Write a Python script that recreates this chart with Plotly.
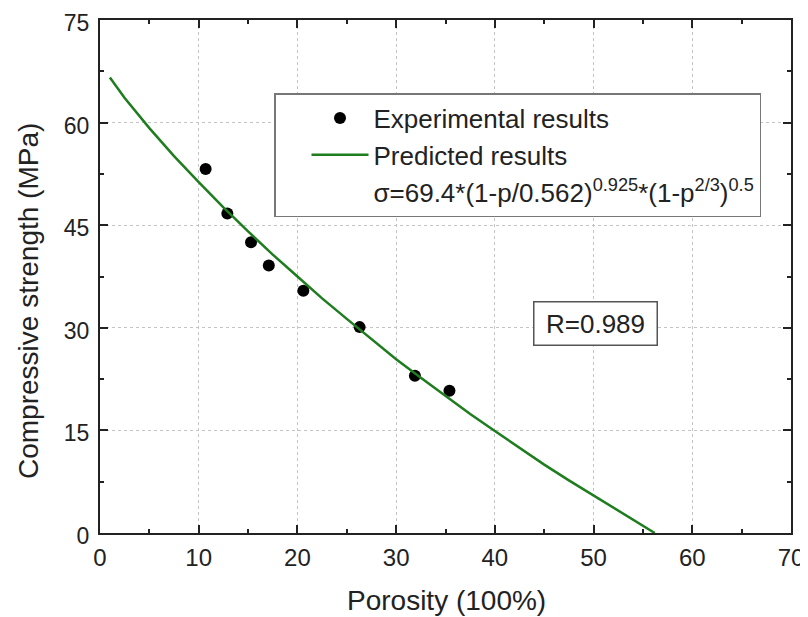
import plotly.graph_objects as go

# Experimental data (porosity %, compressive strength MPa)
exp_porosity = [10.7, 12.9, 15.3, 17.1, 20.6, 26.3, 31.9, 35.4]
exp_strength = [53.2, 46.7, 42.5, 39.1, 35.4, 30.1, 23.0, 20.8]

# Predicted curve
pred_porosity = [1, 2.5, 5, 7.5, 10, 12.5, 15, 17.5, 20, 22.5, 25, 27.5, 30, 32.5, 35,
                 37.5, 40, 42.5, 45, 47.5, 50, 52.5, 54, 55, 55.5, 56, 56.2]
pred_strength = [66.6, 63.6, 59.2, 55.1, 51.3, 47.6, 44.1, 40.7, 37.5, 34.3, 31.3, 28.3,
                 25.4, 22.7, 20.0, 17.4, 14.9, 12.4, 10.0, 7.7, 5.5, 3.3, 2.0, 1.1, 0.7, 0.2, 0.0]

x_ticks = [0, 10, 20, 30, 40, 50, 60, 70]
y_ticks = [0, 15, 30, 45, 60, 75]

FONT = "Liberation Sans, Arial, sans-serif"
OFF = 8  # page body margin
W, H = 800, 609
PL, PT, PW, PH = 100, 20, 691, 513   # plot area in page pixels
ML, MT = PL - OFF, PT - OFF
MR, MB = W - ML - PW, H - MT - PH

def px_x(p):
    return (p - PL) / PW

def px_y(p):
    return (PT + PH - p) / PH

fig = go.Figure()
fig.add_trace(go.Scatter(
    x=exp_porosity, y=exp_strength, mode="markers",
    name="Experimental results",
    marker=dict(color="black", size=12),
))
fig.add_trace(go.Scatter(
    x=pred_porosity, y=pred_strength, mode="lines",
    name="Predicted results",
    line=dict(color="#1e7d1e", width=2.5),
))
fig.add_trace(go.Scatter(
    x=[None], y=[None], mode="lines",
    name="σ=69.4*(1-p/0.562)<sup>0.925</sup>*(1-p<sup>2/3</sup>)<sup>0.5</sup>",
    line=dict(color="rgba(0,0,0,0)", width=0),
))

axis_common = dict(
    showline=True, linecolor="#222", linewidth=2, mirror="ticks",
    ticks="inside", ticklen=8, tickwidth=1.5, tickcolor="#222",
    showgrid=True, gridcolor="#c4c4c4", gridwidth=1, griddash="dot",
    zeroline=False, automargin=False, ticklabeloverflow="allow",
)

fig.update_xaxes(
    range=[0, 70], tickvals=x_ticks, ticktext=[str(v) for v in x_ticks],
    minor=dict(dtick=5, tick0=0, ticks="inside", ticklen=4, tickwidth=1.5, tickcolor="#222", showgrid=False),
    ticklabelstandoff=2,
    tickfont=dict(family=FONT, size=24, color="#222"),
    **axis_common,
)
fig.update_yaxes(
    range=[0, 75], tickvals=y_ticks, ticktext=[str(v) for v in y_ticks],
    minor=dict(dtick=7.5, tick0=0, ticks="inside", ticklen=4, tickwidth=1.5, tickcolor="#222", showgrid=False),
    ticklabelstandoff=4, ticklabelshift=3,
    tickfont=dict(family=FONT, size=23, color="#222"),
    **axis_common,
)

fig.update_layout(
    width=W, height=H,
    margin=dict(l=ML, r=MR, t=MT, b=MB, autoexpand=False),
    plot_bgcolor="white", paper_bgcolor="white",
    font=dict(family=FONT, color="#222"),
    legend=dict(
        x=px_x(274), y=px_y(93), xanchor="left", yanchor="top",
        bordercolor="#777", borderwidth=1.5, bgcolor="white",
        font=dict(family=FONT, size=26, color="#222"),
        itemwidth=57, indentation=31, tracegroupgap=0,
    ),
    annotations=[
        dict(text="Porosity (100%)", xref="paper", yref="paper",
             x=px_x(446), y=px_y(600), xanchor="center", yanchor="middle",
             showarrow=False, font=dict(family=FONT, size=28, color="#222")),
        dict(text="Compressive strength (MPa)", xref="paper", yref="paper",
             x=px_x(28), y=px_y(301), xanchor="center", yanchor="middle",
             textangle=-90, showarrow=False,
             font=dict(family=FONT, size=28, color="#222")),
        dict(text="R=0.989", xref="x", yref="y", x=50.2, y=30.7,
             showarrow=False, bordercolor="#555", borderwidth=1.5,
             borderpad=6, width=110, height=30, bgcolor="white",
             font=dict(family=FONT, size=26, color="#222")),
    ],
)

fig.write_html("out.html")
